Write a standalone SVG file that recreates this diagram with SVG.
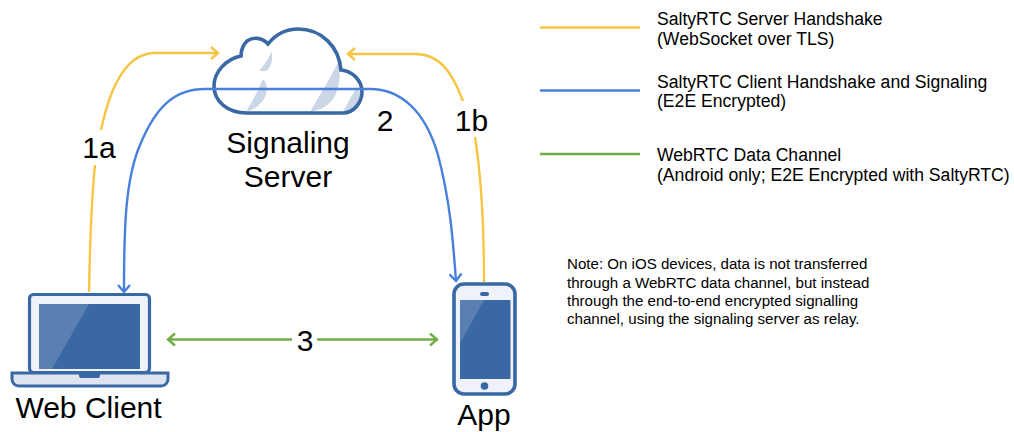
<svg xmlns="http://www.w3.org/2000/svg" width="1014" height="432" viewBox="0 0 1014 432">
<style>
text{font-family:"Liberation Sans",Arial,sans-serif;fill:#000}
.big{font-size:30px;text-anchor:middle}
.leg{font-size:17.6px}
.note{font-size:15.1px}
.y{stroke:#f6c544}.b{stroke:#4a80dc}.g{stroke:#70ad47}
.l{fill:none;stroke-width:2.4}
.dev{fill:#3a68a4}.lt{fill:#eff2f8}
.sh{fill:#cbd6e6}
</style>
<defs>
<marker id="ay" markerWidth="14" markerHeight="16" refX="12" refY="8" orient="auto-start-reverse" markerUnits="userSpaceOnUse"><path d="M5 2L12 8L5 14" fill="none" stroke="#f6c544" stroke-width="2.4"/></marker>
<marker id="ab" markerWidth="14" markerHeight="16" refX="12" refY="8" orient="auto-start-reverse" markerUnits="userSpaceOnUse"><path d="M5 2L12 8L5 14" fill="none" stroke="#4a80dc" stroke-width="2.4"/></marker>
<marker id="ag" markerWidth="14" markerHeight="16" refX="12" refY="8" orient="auto-start-reverse" markerUnits="userSpaceOnUse"><path d="M5 2L12 8L5 14" fill="none" stroke="#70ad47" stroke-width="2.4"/></marker>
</defs>

<g id="server">
<path class="sh" d="M272 51C273 60 271 68 266 71L259 71C264 65 269 58 272 51Z"/>
<path class="sh" d="M263 79C268 84 268 92 264 99C260 105 254 110 246 112C252 102 258 91 263 79Z"/>
<path class="sh" d="M338 63C341 72 340 85 335 96C330 105 321 110 310 112C319 96 329 80 338 63Z"/>
<path class="sh" d="M357 87C361 92 362 98 360 103C358 109 352 112 343 112C347 104 352 95 357 87Z"/>
<path d="M247 113H343C354 113 362 102 362 92C362 80 352 71 341 70C339 47 322 29 298 29C287 29 276 34 268 44C262 37 253 37 247 41C243 45 241 50 241 56C226 59 214 72 214 86C214 101 227 113 247 113Z" fill="none" stroke="#3a68a4" stroke-width="3.600"/>
</g>

<g id="connectors">
<path class="l y" d="M89 292C90 240 92 195 95 165"/>
<path class="l y" marker-end="url(#ay)" d="M101 130C112 78 130 53 155 53H218"/>
<path class="l y" d="M484 282C484 230 481 175 475 137"/>
<path class="l y" marker-end="url(#ay)" d="M463 101C452 72 440 54 415 54H348"/>
<path class="l b" marker-start="url(#ab)" marker-end="url(#ab)" d="M124 292C124 230 125 180 140 145C156 106 175 89 205 89H370C400 89 425 110 438 155C450 200 453 240 456 281"/>
<path class="l g" marker-start="url(#ag)" d="M168 339.500H292"/>
<path class="l g" marker-end="url(#ag)" d="M317 339.500H437"/>
</g>

<g id="web-client">
<rect x="29.500" y="294.500" width="120" height="78" rx="4" class="lt" stroke="#3a68a4" stroke-width="3.200"/>
<rect x="39" y="304" width="101" height="65" class="dev"/>
<path d="M39 304H89L52 369H39Z" fill="#5a80b2"/>
<path d="M12 373H168V379C168 383 165 386 161 386H19C15 386 12 383 12 379Z" fill="#dfe5f0" stroke="#3a68a4" stroke-width="3"/>
<path d="M79 374H100V376C100 377 99 378 98 378H81C80 378 79 377 79 376Z" class="dev"/>
</g>

<g id="app">
<rect x="454" y="284" width="61" height="110" rx="10" class="lt" stroke="#3a68a4" stroke-width="3.600"/>
<rect x="460" y="300" width="50.500" height="79" class="dev"/>
<path d="M460 300H484L460 343Z" fill="#5a80b2"/>
<rect x="480" y="292" width="9" height="4" rx="2" class="dev"/>
<circle cx="484.500" cy="386" r="3.800" class="dev"/>
</g>

<g id="labels">
<text x="99" y="158" class="big">1a</text>
<text x="385" y="131" class="big">2</text>
<text x="471.500" y="131" class="big">1b</text>
<text x="305" y="351" class="big">3</text>
<text x="288" y="153" class="big">Signaling</text>
<text x="288" y="187" class="big">Server</text>
<text x="88.500" y="418" class="big">Web Client</text>
<text x="484" y="425" class="big">App</text>
</g>

<g id="legend">
<path class="l y" d="M540 27.500H640"/>
<path class="l b" d="M540 90.500H640"/>
<path class="l g" d="M540 154H640"/>
<text x="657" y="25" class="leg">SaltyRTC Server Handshake</text>
<text x="657" y="45" class="leg">(WebSocket over TLS)</text>
<text x="657" y="87.500" class="leg">SaltyRTC Client Handshake and Signaling</text>
<text x="657" y="107" class="leg">(E2E Encrypted)</text>
<text x="657" y="160.500" class="leg">WebRTC Data Channel</text>
<text x="657" y="180.500" class="leg">(Android only; E2E Encrypted with SaltyRTC)</text>
</g>

<g id="note">
<text x="567" y="269" class="note">Note: On iOS devices, data is not transferred</text>
<text x="567" y="287.500" class="note">through a WebRTC data channel, but instead</text>
<text x="567" y="305.500" class="note">through the end-to-end encrypted signalling</text>
<text x="567" y="324" class="note">channel, using the signaling server as relay.</text>
</g>
</svg>
